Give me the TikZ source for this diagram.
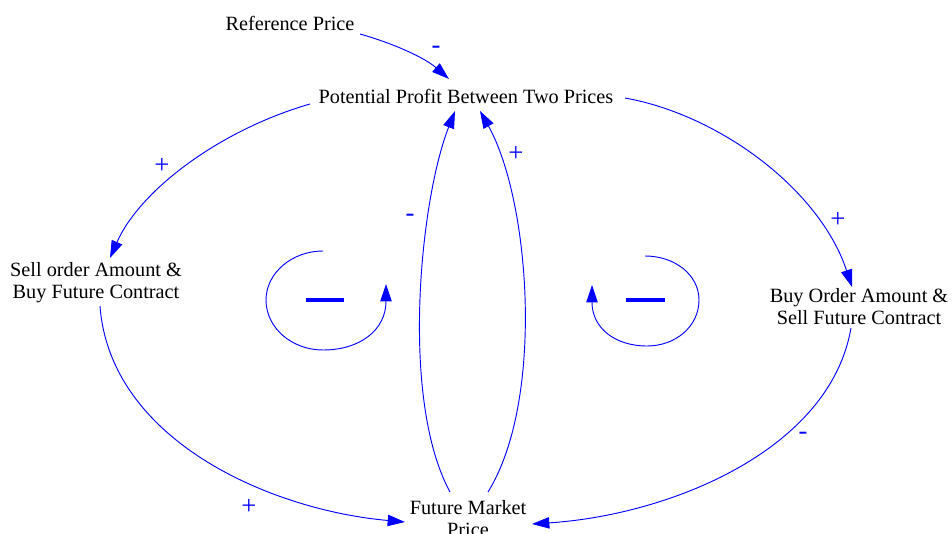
\documentclass[tikz,border=0pt]{standalone}
\usepackage{fontspec}
\setmainfont{Liberation Serif}
\usetikzlibrary{arrows.meta,calc}
\definecolor{linkblue}{RGB}{0,0,255}
\tikzset{
  var/.style={inner sep=0pt, align=center, font=\fontsize{15.2}{16.5}\selectfont, text=black},
  link/.style={draw=linkblue, line width=0.7pt, -{Triangle[length=13pt,width=8.5pt]}},
  sign/.style={inner sep=0pt, text=linkblue, font=\fontsize{20}{20}\selectfont},
  loopbar/.style={draw=linkblue, line width=2.4pt}
}
\begin{document}
\begin{tikzpicture}[x=0.75pt,y=-0.75pt]
\clip (0,0) rectangle (952,534);
% variables
\node[var] (ref) at (290,23) {Reference Price};
\node[var] (pp) at (466,96) {Potential Profit Between Two Prices};
\node[var] (sell) at (96,283) {Sell order Amount \&\\Buy Future Contract};
\node[var] (buy) at (859,307) {Buy Order Amount \&\\Sell Future Contract};
\node[var] (fmp) at (468,519) {Future Market\\Price};
% links
\draw[link] ($(ref)+(70,11)$) .. controls (395,44) and (425,58) .. ($(pp)+(-17,-17)$);
\draw[link] ($(pp)+(-156,8)$) .. controls (220,130) and (140,190) .. ($(sell)+(14,-25)$);
\draw[link] ($(pp)+(159,2)$) .. controls (720,115) and (820,190) .. ($(buy)+(-7,-20)$);
\draw[link] ($(sell)+(4,23)$) .. controls (110,440) and (270,510) .. ($(fmp)+(-63,3)$);
\draw[link] ($(buy)+(-8,21)$) .. controls (830,450) and (670,515) .. ($(fmp)+(64,5)$);
\draw[link] ($(fmp)+(-18,-27)$) .. controls (400,400) and (420,200) .. ($(pp)+(-11,15)$);
\draw[link] ($(fmp)+(20,-27)$) .. controls (545,400) and (530,200) .. ($(pp)+(14,15)$);
% signs
\node[sign] (s1) at (436,50) {-};
\node[sign] (s2) at (162,166) {+};
\node[sign] (s3) at (838,220) {+};
\node[sign] (s4) at (249,507) {+};
\node[sign] (s5) at (803,436) {-};
\node[sign] (s6) at (410,218) {-};
\node[sign] (s7) at (516,154) {+};
% loop symbols
\draw[link] (323,251) .. controls (292,251) and (266,273) .. (266,300)
  .. controls (266,328) and (292,350) .. (323,350)
  .. controls (360,350) and (386,330) .. (386,284);
\draw[loopbar] (306,300) -- (344,300);
\draw[link] (645,256) .. controls (675,256) and (699,275) .. (699,300)
  .. controls (699,326) and (676,346) .. (647,346)
  .. controls (615,346) and (592,328) .. (592,285);
\draw[loopbar] (626,300) -- (665,300);
\end{tikzpicture}
\end{document}
